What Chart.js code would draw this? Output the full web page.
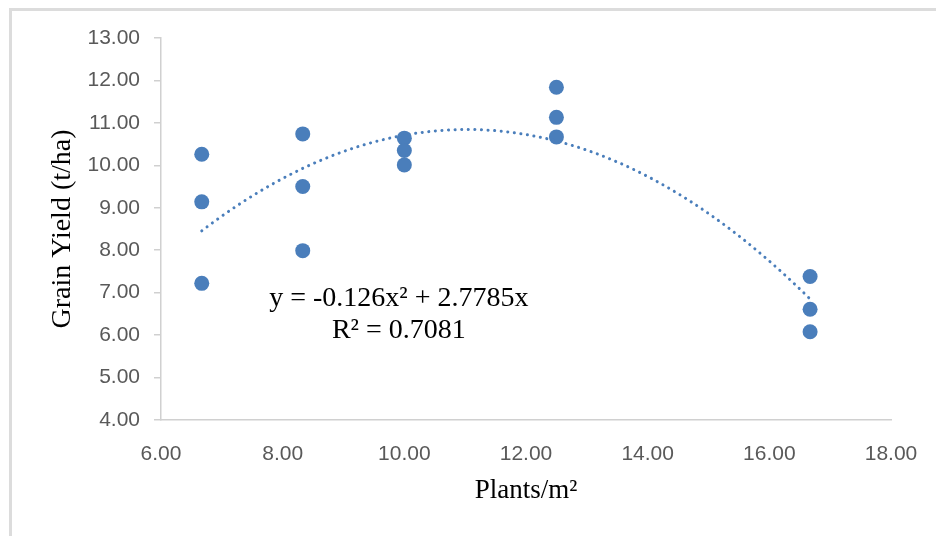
<!DOCTYPE html>
<html>
<head>
<meta charset="utf-8">
<script src="https://cdn.jsdelivr.net/npm/chart.js@4.4.1/dist/chart.umd.min.js"></script>
<style>
    html, body { margin: 0; padding: 0; background: #fff; }
    .wrap { position: relative; width: 936px; height: 536px; overflow: hidden; }
    .frame {
        position: absolute; left: 9px; top: 8px; width: 1000px; height: 600px;
        border-left: 3px solid #dcdcdc; border-top: 3px solid #dcdcdc;
    }
    #yieldChart { position: absolute; left: 0; top: 0; }
</style>
</head>
<body>
<div class="wrap">
    <div class="frame"></div>
    <canvas id="yieldChart" width="936" height="536"></canvas>
</div>
<script>
// plant density (plants/m2) and grain yield (t/ha), three replicates per density
const plantDensity = [6.67, 6.67, 6.67, 8.33, 8.33, 8.33, 10, 10, 10, 12.5, 12.5, 12.5, 16.67, 16.67, 16.67];
const grainYield = [10.26, 9.14, 7.22, 10.74, 9.50, 7.99, 10.64, 10.35, 10.01, 11.84, 11.13, 10.67, 7.38, 6.61, 6.08];

const xTickValues = [6, 8, 10, 12, 14, 16, 18];
const yTickValues = [4, 5, 6, 7, 8, 9, 10, 11, 12, 13];

const equationLines = ['y = -0.126x\u00B2 + 2.7785x', 'R\u00B2 = 0.7081'];
const equationAnchor = { x: 9.91, y: 6.86 };

const blue = '#4a7ebb';
const axisGray = '#d0d0d0';
const tickColor = '#595959';
const serif = '"Liberation Serif", "Times New Roman", serif';

// least squares quadratic fit: y = a x^2 + b x + c
function fitQuadratic(xs, ys) {
    let s = [0, 0, 0, 0, 0], t = [0, 0, 0];
    for (let i = 0; i < xs.length; i++) {
        let p = 1;
        for (let k = 0; k < 5; k++) { s[k] += p; p *= xs[i]; }
        t[0] += ys[i]; t[1] += ys[i] * xs[i]; t[2] += ys[i] * xs[i] * xs[i];
    }
    // normal equations, unknowns [c, b, a]
    let m = [
        [s[0], s[1], s[2], t[0]],
        [s[1], s[2], s[3], t[1]],
        [s[2], s[3], s[4], t[2]]
    ];
    for (let i = 0; i < 3; i++) {
        for (let j = i + 1; j < 3; j++) {
            let f = m[j][i] / m[i][i];
            for (let k = i; k < 4; k++) m[j][k] -= f * m[i][k];
        }
    }
    let r = [0, 0, 0];
    for (let i = 2; i >= 0; i--) {
        let v = m[i][3];
        for (let k = i + 1; k < 3; k++) v -= m[i][k] * r[k];
        r[i] = v / m[i][i];
    }
    return { c: r[0], b: r[1], a: r[2] };
}

function trendPoints() {
    let fit = fitQuadratic(plantDensity, grainYield);
    let lo = Math.min(...plantDensity);
    let hi = Math.max(...plantDensity);
    let pts = [];
    let n = 120;
    for (let i = 0; i <= n; i++) {
        let x = lo + (hi - lo) * i / n;
        pts.push({ x: x, y: fit.a * x * x + fit.b * x + fit.c });
    }
    return pts;
}

const equationLabel = {
    id: 'equationLabel',
    afterDatasetsDraw(chart) {
        let ctx = chart.ctx;
        let px = chart.scales.x.getPixelForValue(equationAnchor.x);
        let py = chart.scales.y.getPixelForValue(equationAnchor.y);
        ctx.save();
        ctx.font = '28px ' + serif;
        ctx.fillStyle = '#000';
        ctx.textAlign = 'center';
        ctx.textBaseline = 'middle';
        equationLines.forEach((line, i) => {
            ctx.fillText(line, px, py + i * 32);
        });
        ctx.restore();
    }
};

new Chart(document.getElementById('yieldChart'), {
    type: 'scatter',
    data: {
        datasets: [
            {
                label: 'Trend',
                type: 'line',
                data: trendPoints(),
                borderColor: blue,
                borderWidth: 3,
                borderDash: [0.1, 6.5],
                borderCapStyle: 'round',
                pointRadius: 0,
                fill: false,
                tension: 0,
                order: 0
            },
            {
                label: 'Grain Yield',
                data: plantDensity.map((x, i) => ({ x: x, y: grainYield[i] })),
                backgroundColor: blue,
                borderColor: blue,
                borderWidth: 0,
                pointRadius: 7.5,
                pointHoverRadius: 7.5,
                order: 1
            }
        ]
    },
    options: {
        responsive: false,
        animation: false,
        layout: { padding: { top: 38, right: 45, left: 0, bottom: 0 } },
        plugins: {
            legend: { display: false },
            tooltip: { enabled: false }
        },
        scales: {
            x: {
                type: 'linear',
                min: 6,
                max: 18,
                afterBuildTicks: scale => { scale.ticks = xTickValues.map(v => ({ value: v })); },
                afterFit: scale => { scale.height = 116; },
                grid: { display: false },
                border: { display: true, color: axisGray, width: 1.5 },
                ticks: {
                    padding: 14,
                    color: tickColor,
                    font: { family: '"Liberation Sans", Arial, sans-serif', size: 21 },
                    callback: v => v.toFixed(2)
                },
                title: {
                    display: true,
                    text: 'Plants/m\u00B2',
                    color: '#000',
                    font: { family: serif, size: 27 },
                    padding: { top: 0, bottom: 29 }
                }
            },
            y: {
                type: 'linear',
                min: 4,
                max: 13,
                afterBuildTicks: scale => { scale.ticks = yTickValues.map(v => ({ value: v })); },
                afterFit: scale => { scale.width = 161; },
                grid: {
                    display: true,
                    drawOnChartArea: false,
                    drawTicks: true,
                    tickLength: 7,
                    color: axisGray,
                    lineWidth: 1.5
                },
                border: { display: true, color: axisGray, width: 1.5 },
                ticks: {
                    padding: 14,
                    color: tickColor,
                    font: { family: '"Liberation Sans", Arial, sans-serif', size: 21 },
                    callback: v => v.toFixed(2)
                },
                title: {
                    display: true,
                    text: 'Grain Yield (t/ha)',
                    color: '#000',
                    font: { family: serif, size: 28 },
                    padding: { top: 46, bottom: 0 }
                }
            }
        }
    },
    plugins: [equationLabel]
});
</script>
</body>
</html>
